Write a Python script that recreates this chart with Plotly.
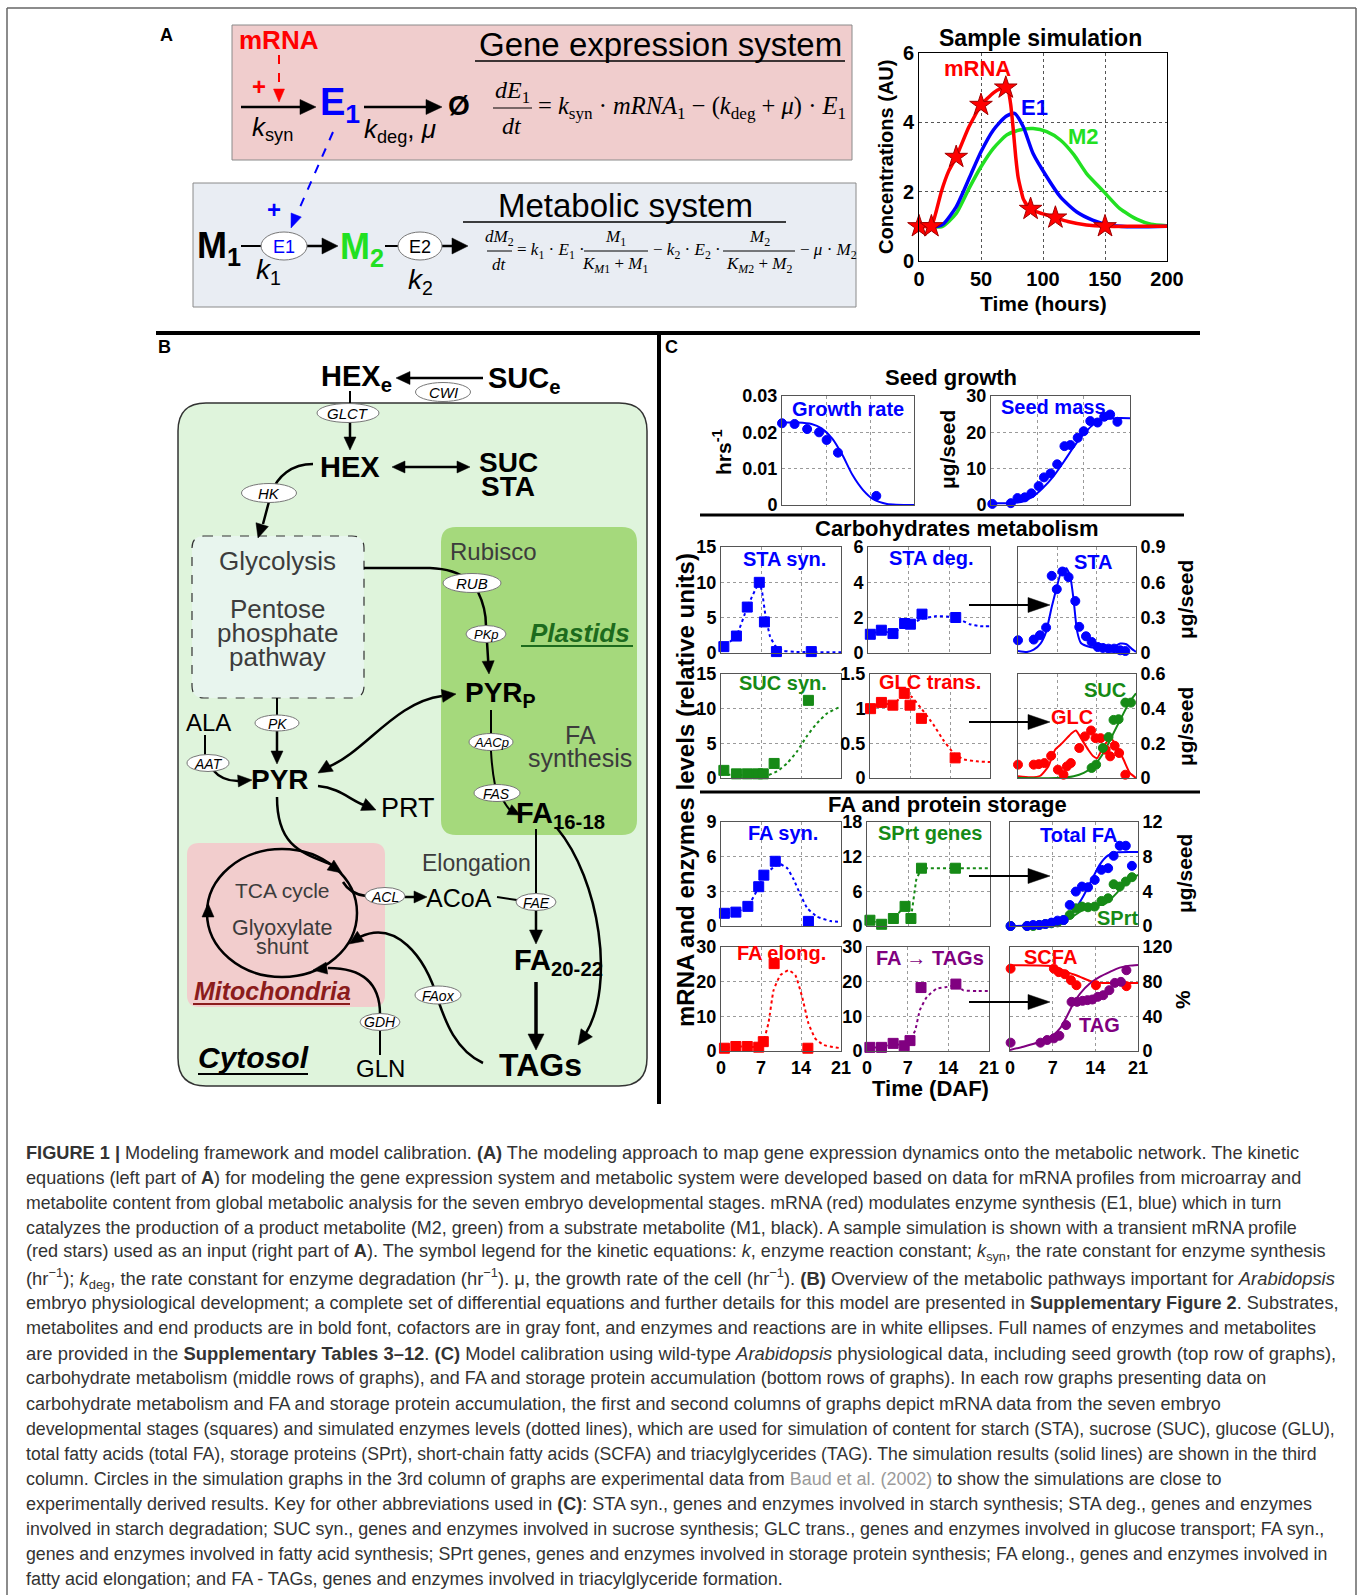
import math
import plotly.graph_objects as go

W, H = 1358, 1595
SANS = "Liberation Sans"
SERIF = "Liberation Serif"

# ---------------- DATA ----------------
# Panel A: sample simulation (hours, AU)
sim_star_t = [0, 10, 30, 50, 70, 90, 110, 150]
sim_star_mrna = [1.0, 1.0, 3.0, 4.5, 5.0, 1.5, 1.25, 1.0]
sim_mrna_t = [0, 10, 14, 18, 24, 30, 40, 50, 60, 66, 70, 72, 74, 76, 78, 80, 84, 88, 90, 95, 100, 110, 120, 135, 150, 175, 200]
sim_mrna_v = [1.0, 1.0, 1.45, 2.0, 2.6, 3.0, 3.85, 4.5, 4.85, 4.97, 5.0, 4.92, 4.5, 3.8, 3.0, 2.4, 1.8, 1.56, 1.5, 1.42, 1.36, 1.25, 1.14, 1.04, 1.0, 1.0, 1.0]
sim_e1_t = [10, 15, 20, 30, 41, 50, 60, 70, 77, 84, 92, 103, 114, 127, 140, 154, 168, 185, 200]
sim_e1_v = [1.0, 1.0, 1.08, 1.56, 2.43, 3.15, 3.78, 4.17, 4.26, 3.88, 3.1, 2.43, 1.85, 1.42, 1.18, 1.03, 0.99, 0.99, 1.0]
sim_m2_t = [10, 19, 30, 41, 50, 60, 71, 81, 92, 103, 114, 125, 135, 149, 162, 176, 187, 200]
sim_m2_v = [0.98, 1.0, 1.37, 2.14, 2.72, 3.25, 3.64, 3.78, 3.82, 3.73, 3.49, 3.06, 2.53, 2.0, 1.51, 1.2, 1.06, 1.02]
sim_x_ticks = [0, 50, 100, 150, 200]
sim_y_ticks = [0, 2, 4, 6]

# Panel C: days after flowering
daf_ticks = [0, 7, 14, 21]

gr_day = [0, 2, 4, 5.9, 7.1, 8.9, 15]
gr_obs = [0.0225, 0.0223, 0.0209, 0.0200, 0.0179, 0.0144, 0.0025]
gr_fit_day = [0, 2.5, 4.7, 6.3, 8, 9.6, 11.2, 12.9, 14.5, 16.7, 21]
gr_fit = [0.0227, 0.0227, 0.0223, 0.0211, 0.0183, 0.0138, 0.0083, 0.0041, 0.0016, 0.0003, 0.0]
gr_ticks = [0, 0.01, 0.02, 0.03]
gr_tick_text = ["0", "0.01", "0.02", "0.03"]

sm_day = [0.2, 3.0, 4.0, 5.1, 6.1, 7.2, 8.0, 9.0, 10.0, 11.1, 12.0, 13.1, 14.0, 15.0, 16.1, 17.1, 18.0, 19.1]
sm_obs = [0.3, 0.5, 1.9, 2.1, 3.2, 5.2, 7.6, 8.7, 11.2, 16.2, 16.5, 18.5, 20.3, 23.1, 22.7, 24.3, 24.9, 22.9]
sm_fit_day = [0, 3.1, 4.7, 6.3, 7.8, 9.4, 11, 12.5, 14.1, 15.7, 17.2, 18.8, 21]
sm_fit = [0.5, 0.5, 0.9, 2.3, 4.6, 7.8, 11.9, 16.0, 19.7, 22.5, 23.6, 23.9, 23.9]

sta_syn_day = [0.5, 2.7, 4.6, 6.7, 7.6, 9.7, 15.8]
sta_syn_obs = [0.9, 2.4, 6.5, 10.0, 4.4, 0.2, 0.2]
sta_syn_fit_day = [0, 0.5, 2.7, 4.6, 6.7, 7.2, 7.8, 8.6, 9.5, 11, 13, 21]
sta_syn_fit = [0.45, 0.9, 2.4, 6.5, 10.0, 8.6, 5.2, 2.3, 1.0, 0.3, 0.15, 0.1]

sta_deg_day = [0.4, 2.3, 4.3, 6.3, 7.3, 9.3, 15.1]
sta_deg_obs = [1.06, 1.29, 1.1, 1.67, 1.63, 2.2, 2.01]
sta_deg_fit_day = [0, 2.3, 4.3, 6.3, 7.3, 9.3, 11.8, 14.1, 15.8, 17.5, 19.3, 21]
sta_deg_fit = [1.0, 1.27, 1.1, 1.63, 1.63, 1.94, 2.09, 2.05, 1.9, 1.63, 1.52, 1.52]

sta_day = [0, 2.8, 3.9, 5.0, 6.0, 6.9, 7.9, 9.0, 10.2, 10.9, 12.1, 13.1, 14.2, 15.1, 16.1, 17.1, 18.2, 19.1]
sta_obs = [0.108, 0.114, 0.151, 0.216, 0.655, 0.541, 0.692, 0.644, 0.441, 0.222, 0.142, 0.094, 0.051, 0.043, 0.037, 0.037, 0.023, 0.017]
sta_fit_day = [0, 1.6, 2.8, 4.0, 5.0, 6.0, 6.9, 7.7, 8.6, 9.3, 9.9, 10.5, 11.2, 12.8, 15.2, 17.0, 18.2, 19.3, 20.2, 21]
sta_fit = [0.017, 0.009, 0.028, 0.08, 0.18, 0.39, 0.56, 0.69, 0.72, 0.65, 0.45, 0.19, 0.085, 0.051, 0.037, 0.051, 0.08, 0.074, 0.037, 0.009]

suc_syn_day = [0.5, 2.7, 4.6, 6.4, 7.4, 9.3, 15.3]
suc_syn_obs = [1.1, 0.6, 0.6, 0.6, 0.6, 2.1, 11.2]
suc_syn_fit_day = [0, 6.3, 8.0, 9.8, 11.6, 13.3, 15.0, 16.8, 18.6, 21]
suc_syn_fit = [0.5, 0.38, 0.33, 0.96, 2.16, 3.83, 6.0, 7.9, 9.34, 10.3]

glc_tr_day = [0.1, 2.0, 4.0, 6.0, 7.0, 9.0, 14.9]
glc_tr_obs = [1.0, 1.09, 1.05, 1.22, 1.05, 0.86, 0.29]
glc_tr_fit_day = [0, 2.0, 4.0, 6.0, 7.3, 9.0, 11.1, 12.8, 14.6, 16.3, 18.7, 21]
glc_tr_fit = [1.0, 1.09, 1.05, 1.22, 1.17, 1.0, 0.77, 0.55, 0.36, 0.27, 0.24, 0.23]

glc_day = [0, 2.8, 3.7, 4.7, 5.9, 7.1, 8.1, 8.7, 9.4, 10.9, 11.9, 13.0, 13.8, 14.7, 15.6, 16.4, 17.2, 18.0, 19.1]
glc_obs = [0.077, 0.077, 0.080, 0.086, 0.128, 0.048, 0.019, 0.067, 0.086, 0.173, 0.240, 0.274, 0.230, 0.230, 0.163, 0.125, 0.186, 0.144, 0.019]
glc_fit_day = [0, 2.2, 4.0, 5.4, 6.6, 7.5, 8.4, 9.6, 10.3, 11.4, 12.5, 13.4, 14.1, 14.9, 16.1, 16.7, 17.6, 18.8, 19.9, 21]
glc_fit = [0.01, 0.004, 0.013, 0.067, 0.163, 0.19, 0.22, 0.26, 0.274, 0.22, 0.163, 0.125, 0.115, 0.163, 0.22, 0.224, 0.18, 0.105, 0.029, 0.0]
suc_day = [13.1, 13.9, 15.1, 16.1, 17.0, 17.9, 19.1, 20.1]
suc_obs = [0.058, 0.077, 0.173, 0.236, 0.335, 0.339, 0.435, 0.435]
suc_fit_day = [0, 6.9, 9.9, 11.7, 13.4, 15.2, 17.0, 18.8, 19.9, 21]
suc_fit = [0.0, 0.0, 0.01, 0.029, 0.067, 0.144, 0.259, 0.374, 0.441, 0.489]

fa_syn_day = [0.6, 2.6, 4.7, 6.6, 7.5, 9.5, 15.3]
fa_syn_obs = [1.1, 1.2, 1.7, 3.4, 4.4, 5.6, 0.4]
fa_syn_fit_day = [0, 0.6, 2.6, 4.7, 6.6, 7.5, 9.5, 10.4, 11.6, 12.7, 13.9, 15.1, 16.8, 19.1, 21]
fa_syn_fit = [1.04, 1.1, 1.2, 1.7, 3.36, 4.37, 5.2, 5.35, 5.0, 4.05, 2.7, 1.53, 0.81, 0.43, 0.35]

sprt_g_day = [0.5, 2.5, 4.5, 6.5, 7.5, 9.3, 15.1]
sprt_g_obs = [1.0, 0.3, 1.3, 3.4, 1.3, 10.0, 10.0]
sprt_g_fit_day = [0, 0.5, 2.5, 4.5, 6.5, 7.5, 8.4, 9.3, 15.1, 21]
sprt_g_fit = [0.9, 1.0, 0.3, 1.3, 3.4, 1.3, 8.0, 10.0, 10.0, 10.0]

totfa_day = [0.1, 2.8, 3.8, 4.8, 5.8, 6.8, 7.8, 8.8, 9.8, 10.8, 11.8, 12.8, 13.9, 15.0, 16.1, 17.0, 18.0, 19.0, 20.0]
totfa_obs = [0, 0, 0.12, 0.12, 0.23, 0.39, 0.62, 0.69, 2.43, 3.97, 4.55, 4.47, 5.32, 6.48, 6.67, 8.1, 9.26, 9.26, 6.94]
totfa_fit_day = [0, 4.9, 7.6, 9.3, 10.6, 12.0, 13.4, 14.7, 16.1, 17.5, 21]
totfa_fit = [0, 0.08, 0.39, 0.89, 1.85, 3.4, 5.3, 7.06, 8.14, 8.49, 8.53]
sprt_obs = [0, 0, 0, 0.12, 0.23, 0.31, 0.42, 0.69, 1.27, 2.04, 2.24, 2.16, 2.24, 2.89, 3.2, 4.82, 4.55, 5.13, 5.63]
sprt_fit_day = [0, 4.9, 7.6, 9.8, 12.0, 13.9, 15.3, 16.4, 18.0, 19.6, 21]
sprt_fit = [0, 0.05, 0.31, 0.89, 1.85, 2.43, 2.43, 3.0, 4.17, 5.25, 5.9]

fa_el_day = [0.6, 2.6, 4.6, 6.6, 7.4, 9.3, 15.2]
fa_el_obs = [0.8, 1.3, 1.3, 1.1, 2.7, 25.2, 0.8]
fa_el_fit_day = [0, 0.6, 2.6, 4.6, 6.6, 7.4, 8.3, 9.2, 10.4, 11.8, 13.0, 14.2, 15.3, 16.5, 18.0, 21]
fa_el_fit = [0.8, 0.8, 1.3, 1.3, 1.1, 2.7, 8.0, 17.5, 21.9, 23.3, 21.9, 15.6, 8.0, 3.6, 1.7, 0.8]

tag_g_day = [0.5, 2.5, 4.5, 6.4, 7.4, 9.3, 15.3]
tag_g_obs = [1.05, 1.05, 2.2, 1.5, 3.0, 18.3, 19.3]
tag_g_fit_day = [0, 0.5, 2.5, 4.5, 6.4, 7.4, 8.3, 9.1, 10.3, 12.0, 13.8, 15.3, 16.6, 18.9, 21]
tag_g_fit = [1.0, 1.05, 1.05, 2.2, 1.5, 3.0, 6.0, 11.8, 15.6, 18.0, 18.5, 18.9, 17.5, 17.3, 17.3]

scfa_day = [0.1, 7.2, 8.0, 9.0, 10.0, 10.9, 14.1, 19.1]
scfa_obs = [95, 95, 91, 88.6, 81.7, 75.9, 75.9, 74.8]
scfa_fit_day = [0, 7.1, 9.3, 11.5, 13.1, 14.7, 16.4, 21]
scfa_fit = [99, 97.8, 91.3, 85.5, 80.9, 78.6, 78.6, 78.6]
tag_day = [0.1, 5.0, 6.1, 7.2, 8.1, 9.2, 10.1, 11.0, 11.9, 12.7, 13.5, 14.4, 15.3, 16.3, 17.2, 18.2, 19.1]
tag_obs = [9.6, 9.6, 12.7, 14.6, 17.6, 29.9, 56.7, 56.7, 57.9, 58.7, 59.4, 62.5, 64.4, 70.2, 78.6, 79.8, 93.2]
tag_fit_day = [0, 2.2, 4.9, 7.1, 8.2, 9.3, 10.4, 11.5, 13.1, 14.7, 16.4, 18.0, 19.6, 21]
tag_fit = [1.2, 5.0, 10.7, 18.4, 26.0, 39.5, 54.8, 66.3, 77.8, 85.5, 91.3, 96.2, 98.5, 99.3]

caption_lines = [
    "<b>FIGURE 1 |</b> Modeling framework and model calibration. <b>(A)</b> The modeling approach to map gene expression dynamics onto the metabolic network. The kinetic",
    "equations (left part of <b>A</b>) for modeling the gene expression system and metabolic system were developed based on data for mRNA profiles from microarray and",
    "metabolite content from global metabolic analysis for the seven embryo developmental stages. mRNA (red) modulates enzyme synthesis (E1, blue) which in turn",
    "catalyzes the production of a product metabolite (M2, green) from a substrate metabolite (M1, black). A sample simulation is shown with a transient mRNA profile",
    "(red stars) used as an input (right part of <b>A</b>). The symbol legend for the kinetic equations: <i>k</i>, enzyme reaction constant; <i>k</i><sub>syn</sub>, the rate constant for enzyme synthesis",
    "(hr<sup>−1</sup>); <i>k</i><sub>deg</sub>, the rate constant for enzyme degradation (hr<sup>−1</sup>). μ, the growth rate of the cell (hr<sup>−1</sup>). <b>(B)</b> Overview of the metabolic pathways important for <i>Arabidopsis</i>",
    "embryo physiological development; a complete set of differential equations and further details for this model are presented in <b>Supplementary Figure 2</b>. Substrates,",
    "metabolites and end products are in bold font, cofactors are in gray font, and enzymes and reactions are in white ellipses. Full names of enzymes and metabolites",
    "are provided in the <b>Supplementary Tables 3–12</b>. <b>(C)</b> Model calibration using wild-type <i>Arabidopsis</i> physiological data, including seed growth (top row of graphs),",
    "carbohydrate metabolism (middle rows of graphs), and FA and storage protein accumulation (bottom rows of graphs). In each row graphs presenting data on",
    "carbohydrate metabolism and FA and storage protein accumulation, the first and second columns of graphs depict mRNA data from the seven embryo",
    "developmental stages (squares) and simulated enzymes levels (dotted lines), which are used for simulation of content for starch (STA), sucrose (SUC), glucose (GLU),",
    "total fatty acids (total FA), storage proteins (SPrt), short-chain fatty acids (SCFA) and triacylglycerides (TAG). The simulation results (solid lines) are shown in the third",
    "column. Circles in the simulation graphs in the 3rd column of graphs are experimental data from <span style='color:#9a9a9a'>Baud et al. (2002)</span> to show the simulations are close to",
    "experimentally derived results. Key for other abbreviations used in <b>(C)</b>: STA syn., genes and enzymes involved in starch synthesis; STA deg., genes and enzymes",
    "involved in starch degradation; SUC syn., genes and enzymes involved in sucrose synthesis; GLC trans., genes and enzymes involved in glucose transport; FA syn.,",
    "genes and enzymes involved in fatty acid synthesis; SPrt genes, genes and enzymes involved in storage protein synthesis; FA elong., genes and enzymes involved in",
    "fatty acid elongation; and FA - TAGs, genes and enzymes involved in triacylglyceride formation.",
]
caption_font_sizes = [18.2, 18.1, 17.7, 17.9, 18.1, 18.4, 18.15, 18.05, 18.4, 17.95, 18.05,
                      17.75, 17.65, 17.95, 18.0, 17.85, 17.75, 18.0]

# ---------------- COLORS ----------------
BLUE = "#0000ff"
RED = "#ff0000"
GREEN = "#168a16"
LGREEN = "#22e022"
PURPLE = "#800080"
GRAYTXT = "#3c3c3c"

# ---------------- HELPERS ----------------
shapes = []
top_shapes = []
anns = []


def X(v):
    return v / W


def Y(v):
    return 1 - v / H


def text(x, y, s, size, color="black", bold=False, italic=False, family=SANS,
         xa="center", ya="middle", angle=0):
    anns.append(dict(x=X(x), y=Y(y), xref="paper", yref="paper", text=s, showarrow=False,
                     font=dict(family=family, size=size, color=color,
                               weight="bold" if bold else "normal",
                               style="italic" if italic else "normal"),
                     xanchor=xa, yanchor=ya, textangle=angle))


def seg(x0, y0, x1, y1, color="black", w=2.0, dash=None, target=None):
    (target if target is not None else shapes).append(
        dict(type="line", xref="paper", yref="paper", x0=X(x0), y0=Y(y0), x1=X(x1), y1=Y(y1),
             line=dict(color=color, width=w, dash=dash)))


def path(cmds, color="black", w=2.0, fill=None, dash=None, target=None):
    parts = []
    for c in cmds:
        op, nums = c[0], c[1:]
        pts = " ".join(f"{X(nums[i]):.5f},{Y(nums[i + 1]):.5f}" for i in range(0, len(nums), 2))
        parts.append(op + (" " + pts if pts else ""))
    (target if target is not None else shapes).append(
        dict(type="path", xref="paper", yref="paper", path=" ".join(parts),
             line=dict(color=color, width=w, dash=dash),
             fillcolor=fill if fill else "rgba(0,0,0,0)"))


def head(tx, ty, fx, fy, L=13, Wd=12, color="black", target=None):
    dx, dy = tx - fx, ty - fy
    n = math.hypot(dx, dy)
    ux, uy = dx / n, dy / n
    bx, by = tx - ux * L, ty - uy * L
    px, py = -uy, ux
    path([("M", tx, ty), ("L", bx + px * Wd / 2, by + py * Wd / 2),
          ("L", bx - px * Wd / 2, by - py * Wd / 2), ("Z",)],
         color=color, w=0.5, fill=color, target=target)


def arrow(x0, y0, x1, y1, color="black", w=2.5, L=13, Wd=12, dash=None, both=False, target=None):
    dx, dy = x1 - x0, y1 - y0
    n = math.hypot(dx, dy)
    ux, uy = dx / n, dy / n
    sx, sy = (x0 + ux * L * 0.7, y0 + uy * L * 0.7) if both else (x0, y0)
    seg(sx, sy, x1 - ux * L * 0.7, y1 - uy * L * 0.7, color, w, dash, target)
    head(x1, y1, x0, y0, L, Wd, color, target)
    if both:
        head(x0, y0, x1, y1, L, Wd, color, target)


ellipses = []


def ell(cx, cy, w, h, label, size=14, color="black", italic=True, lc="#777"):
    ellipses.append(dict(type="circle", xref="paper", yref="paper",
                         x0=X(cx - w / 2), x1=X(cx + w / 2), y0=Y(cy + h / 2), y1=Y(cy - h / 2),
                         fillcolor="white", line=dict(color=lc, width=1)))
    text(cx, cy + 0.5, label, size, color, italic=italic)


def rrect(x0, y0, x1, y1, r, fill, lc=None, lw=1.0, dash=None):
    path([("M", x0 + r, y0), ("L", x1 - r, y0), ("Q", x1, y0, x1, y0 + r), ("L", x1, y1 - r),
          ("Q", x1, y1, x1 - r, y1), ("L", x0 + r, y1), ("Q", x0, y1, x0, y1 - r),
          ("L", x0, y0 + r), ("Q", x0, y0, x0 + r, y0), ("Z",)],
         color=lc if lc else fill, w=lw if lc else 0, fill=fill, dash=dash)


def rect(x0, y0, x1, y1, fill, lc="#888", lw=1.0):
    shapes.append(dict(type="rect", xref="paper", yref="paper", x0=X(x0), x1=X(x1), y0=Y(y1), y1=Y(y0),
                       fillcolor=fill, line=dict(color=lc, width=lw)))


# ---------------- FIGURE / AXES ----------------
fig = go.Figure()
layout = {}


def ax_names(i):
    return ("xaxis" if i == 1 else f"xaxis{i}", "yaxis" if i == 1 else f"yaxis{i}",
            "x" if i == 1 else f"x{i}", "y" if i == 1 else f"y{i}")


def mkaxes(i, box, xr, yr, ytv, ytt=None, side="left", xlabels=False, xtv=daf_ticks,
           tsize=18, lc="#555", gc="#9a9a9a"):
    xa, ya, xn, yn = ax_names(i)
    x0, y0, x1, y1 = box
    tf = dict(family=SANS, size=tsize, color="black", weight="bold")
    common = dict(showgrid=True, gridcolor=gc, griddash="dot", gridwidth=1, showline=True, mirror=True,
                  linecolor=lc, linewidth=1, zeroline=False, ticks="", tickfont=tf, automargin=False,
                  fixedrange=True)
    layout[xa] = dict(domain=[X(x0), X(x1)], range=xr, anchor=yn, tickvals=xtv,
                      showticklabels=xlabels, **common)
    layout[ya] = dict(domain=[Y(y1), Y(y0)], range=yr, anchor=xn, side=side, tickvals=ytv,
                      ticktext=ytt, **common)
    return xn, yn


def line_tr(ax, xs, ys, color, w=2.0, dash=None, smooth=0.6):
    fig.add_trace(go.Scatter(x=xs, y=ys, mode="lines", xaxis=ax[0], yaxis=ax[1], hoverinfo="skip",
                             line=dict(color=color, width=w, dash=dash, shape="spline", smoothing=smooth),
                             showlegend=False))


def mark_tr(ax, xs, ys, color, symbol="circle", size=9, lcol=None):
    fig.add_trace(go.Scatter(x=xs, y=ys, mode="markers", xaxis=ax[0], yaxis=ax[1], hoverinfo="skip",
                             cliponaxis=False,
                             marker=dict(color=color, symbol=symbol, size=size,
                                         line=dict(color=lcol if lcol else color, width=1)),
                             showlegend=False))


# ---- Panel A sample simulation ----
a1 = mkaxes(1, (919, 53, 1167, 261), [0, 200], [0, 6], sim_y_ticks, side="left", xlabels=True,
            xtv=sim_x_ticks, tsize=20, lc="black", gc="#555")
line_tr(a1, sim_m2_t, sim_m2_v, LGREEN, w=3.5)
line_tr(a1, sim_e1_t, sim_e1_v, BLUE, w=3.5)
line_tr(a1, sim_mrna_t, sim_mrna_v, RED, w=3.5, smooth=0.4)
mark_tr(a1, sim_star_t, sim_star_mrna, RED, symbol="star", size=17, lcol="#a00000")
for lbl, lx, ly, c in [("mRNA", 47, 5.55, RED), ("E1", 93, 4.42, BLUE), ("M2", 133, 3.6, LGREEN)]:
    anns.append(dict(x=lx, y=ly, xref="x", yref="y", text=lbl, showarrow=False,
                     font=dict(family=SANS, size=22, color=c, weight="bold")))

# ---- Panel C axes ----
a2 = mkaxes(2, (782, 396, 914, 505), [0, 21], [0, 0.03], gr_ticks, gr_tick_text)
a3 = mkaxes(3, (991, 396, 1130, 505), [0, 21], [0, 30], [0, 10, 20, 30])
a4 = mkaxes(4, (721, 547, 841, 653), [0, 21], [0, 15], [0, 5, 10, 15])
a5 = mkaxes(5, (868, 547, 990, 653), [0, 21], [0, 6], [0, 2, 4, 6])
a6 = mkaxes(6, (1018, 547, 1136, 653), [0, 21], [0, 0.9], [0, 0.3, 0.6, 0.9], ["0", "0.3", "0.6", "0.9"], side="right")
a7 = mkaxes(7, (721, 674, 841, 778), [0, 21], [0, 15], [0, 5, 10, 15])
a8 = mkaxes(8, (870, 674, 990, 778), [0, 21], [0, 1.5], [0, 0.5, 1, 1.5], ["0", "0.5", "1", "1.5"])
a9 = mkaxes(9, (1018, 674, 1136, 778), [0, 21], [0, 0.6], [0, 0.2, 0.4, 0.6], ["0", "0.2", "0.4", "0.6"], side="right")
a10 = mkaxes(10, (721, 822, 841, 926), [0, 21], [0, 9], [0, 3, 6, 9])
a11 = mkaxes(11, (867, 822, 990, 926), [0, 21], [0, 18], [0, 6, 12, 18])
a12 = mkaxes(12, (1010, 822, 1138, 926), [0, 21], [0, 12], [0, 4, 8, 12], side="right")
a13 = mkaxes(13, (721, 947, 841, 1051), [0, 21], [0, 30], [0, 10, 20, 30], xlabels=True)
a14 = mkaxes(14, (867, 947, 989, 1051), [0, 21], [0, 30], [0, 10, 20, 30], xlabels=True)
a15 = mkaxes(15, (1010, 947, 1138, 1051), [0, 21], [0, 120], [0, 40, 80, 120], side="right", xlabels=True)

# Seed growth
line_tr(a2, gr_fit_day, gr_fit, BLUE)
mark_tr(a2, gr_day, gr_obs, BLUE)
line_tr(a3, sm_fit_day, sm_fit, BLUE)
mark_tr(a3, sm_day, sm_obs, BLUE)
# Carbohydrates
line_tr(a4, sta_syn_fit_day, sta_syn_fit, BLUE, dash="dot", smooth=0.3)
mark_tr(a4, sta_syn_day, sta_syn_obs, BLUE, "square", 10)
line_tr(a5, sta_deg_fit_day, sta_deg_fit, BLUE, dash="dot", smooth=0.3)
mark_tr(a5, sta_deg_day, sta_deg_obs, BLUE, "square", 10)
line_tr(a6, sta_fit_day, sta_fit, BLUE, smooth=0.5)
mark_tr(a6, sta_day, sta_obs, BLUE)
line_tr(a7, suc_syn_fit_day, suc_syn_fit, GREEN, dash="dot")
mark_tr(a7, suc_syn_day, suc_syn_obs, GREEN, "square", 10)
line_tr(a8, glc_tr_fit_day, glc_tr_fit, RED, dash="dot", smooth=0.3)
mark_tr(a8, glc_tr_day, glc_tr_obs, RED, "square", 10)
line_tr(a9, glc_fit_day, glc_fit, RED, smooth=0.5)
line_tr(a9, suc_fit_day, suc_fit, GREEN)
mark_tr(a9, glc_day, glc_obs, RED)
mark_tr(a9, suc_day, suc_obs, GREEN)
# FA and protein
line_tr(a10, fa_syn_fit_day, fa_syn_fit, BLUE, dash="dot", smooth=0.3)
mark_tr(a10, fa_syn_day, fa_syn_obs, BLUE, "square", 10)
line_tr(a11, sprt_g_fit_day, sprt_g_fit, GREEN, dash="dot", smooth=0)
mark_tr(a11, sprt_g_day, sprt_g_obs, GREEN, "square", 10)
line_tr(a12, sprt_fit_day, sprt_fit, GREEN)
line_tr(a12, totfa_fit_day, totfa_fit, BLUE)
mark_tr(a12, totfa_day, sprt_obs, GREEN)
mark_tr(a12, totfa_day, totfa_obs, BLUE)
line_tr(a13, fa_el_fit_day, fa_el_fit, RED, dash="dot", smooth=0.4)
mark_tr(a13, fa_el_day, fa_el_obs, RED, "square", 10)
line_tr(a14, tag_g_fit_day, tag_g_fit, PURPLE, dash="dot", smooth=0.4)
mark_tr(a14, tag_g_day, tag_g_obs, PURPLE, "square", 10)
line_tr(a15, scfa_fit_day, scfa_fit, RED)
line_tr(a15, tag_fit_day, tag_fit, PURPLE)
mark_tr(a15, scfa_day, scfa_obs, RED)
mark_tr(a15, tag_day, tag_obs, PURPLE)

# ---------------- OUTER FRAME + SEPARATORS ----------------
seg(7, 8, 1356, 8, "#666", 1.5)
seg(7, 8, 7, 1600, "#666", 1.5)
seg(1356, 8, 1356, 1600, "#666", 1.5)
seg(156, 333, 1200, 333, "black", 4)
seg(659, 333, 659, 1104, "black", 4)

# ---------------- PANEL A (diagram) ----------------
text(166, 35, "A", 18, bold=True)
rect(232, 25, 852, 160, "#f0cdcd", "#8a8a8a", 1)
rect(193, 183, 856, 307, "#e9edf3", "#8a8a8a", 1)

text(660, 44, "Gene expression system", 33)
seg(475, 61, 845, 61, "black", 1.5)
text(625, 206, "Metabolic system", 33)
seg(463, 222, 786, 222, "black", 1.5)

text(279, 40, "mRNA", 26, RED, bold=True)
seg(279, 55, 279, 90, RED, 2, "dash")
head(279, 102, 279, 88, 13, 11, RED)
text(259, 86, "+", 24, RED, bold=True)
arrow(241, 107, 316, 107, "black", 2.5, 16, 15)
text(272, 128, "<i>k</i><sub>syn</sub>", 26)
text(340, 105, "E<sub>1</sub>", 38, BLUE, bold=True)
arrow(364, 107, 442, 107, "black", 2.5, 16, 15)
text(459, 106, "Ø", 28, bold=True)
text(400, 131, "<i>k</i><sub>deg</sub>, <i>μ</i>", 26)

# equation 1
text(512, 92, "<i>dE</i><sub>1</sub>", 24, family=SERIF)
seg(493, 108, 532, 108, "black", 1.2)
text(512, 126, "<i>dt</i>", 24, family=SERIF)
text(536, 108, "= <i>k</i><sub>syn</sub> · <i>mRNA</i><sub>1</sub> − (<i>k</i><sub>deg</sub> + <i>μ</i>) · <i>E</i><sub>1</sub>",
     24.5, family=SERIF, xa="left")

# metabolic system
seg(333, 132, 297, 214, BLUE, 2, "dash")
head(291, 228, 297, 213, 14, 11, BLUE)
text(274, 209, "+", 24, BLUE, bold=True)
text(219, 248, "M<sub>1</sub>", 36, bold=True)
seg(241, 246, 262, 246, "black", 2)
ell(284, 246, 46, 28, "E1", 18, BLUE, italic=False)
arrow(307, 246, 338, 246, "black", 2.5, 16, 16)
text(362, 249, "M<sub>2</sub>", 36, LGREEN, bold=True)
seg(385, 246, 399, 246, "black", 2)
ell(420, 246, 44, 28, "E2", 18, "black", italic=False)
arrow(442, 246, 468, 246, "black", 2.5, 16, 16)
text(268, 272, "<i>k</i><sub>1</sub>", 28)
text(420, 281, "<i>k</i><sub>2</sub>", 28)

# equation 2
text(499, 238, "<i>dM</i><sub>2</sub>", 17, family=SERIF)
seg(487, 251, 512, 251, "black", 1)
text(499, 264, "<i>dt</i>", 17, family=SERIF)
text(515, 251, "= <i>k</i><sub>1</sub> · <i>E</i><sub>1</sub> ·", 17, family=SERIF, xa="left")
text(615, 238, "<i>M</i><sub>1</sub>", 17, family=SERIF)
seg(584, 251, 648, 251, "black", 1)
text(615, 265, "<i>K</i><sub><i>M</i>1</sub> + <i>M</i><sub>1</sub>", 17, family=SERIF)
text(651, 251, "− <i>k</i><sub>2</sub> · <i>E</i><sub>2</sub> ·", 17, family=SERIF, xa="left")
text(759, 238, "<i>M</i><sub>2</sub>", 17, family=SERIF)
seg(723, 251, 795, 251, "black", 1)
text(759, 265, "<i>K</i><sub><i>M</i>2</sub> + <i>M</i><sub>2</sub>", 17, family=SERIF)
text(798, 251, "− <i>μ</i> · <i>M</i><sub>2</sub>", 17, family=SERIF, xa="left")

# Sample simulation titles
text(1040, 38, "Sample simulation", 23, bold=True)
text(886, 157, "Concentrations (AU)", 20, bold=True, angle=-90)
text(1043, 303, "Time (hours)", 21, bold=True)

# ---------------- PANEL B ----------------
text(164, 347, "B", 18, bold=True)
rrect(178, 403, 647, 1086, 28, "#dff4dc", "#333", 1.5)
rrect(441, 527, 637, 835, 15, "#a5d97c")
rrect(187, 843, 385, 1007, 12, "#f2cdcd")
rrect(192, 536, 364, 698, 12, "#e8f5ee", "#333", 1.2, "dash")

text(356, 378, "HEX<sub>e</sub>", 29, bold=True)
text(524, 380, "SUC<sub>e</sub>", 29, bold=True)
arrow(483, 378, 396, 378, "black", 2.5, 14, 13)
seg(350, 391, 350, 405)
arrow(350, 421, 350, 450, "black", 2.5, 13, 12)
text(350, 467, "HEX", 29, bold=True)
arrow(392, 467, 470, 467, "black", 2.5, 13, 12, both=True)
text(508, 462, "SUC", 28, bold=True)
text(508, 486, "STA", 28, bold=True)
path([("M", 313, 464), ("C", 292, 464, 277, 476, 271, 494), ("L", 263, 524)], w=2.5)
head(258, 538, 263, 522, 14, 13)

text(277, 561, "Glycolysis", 26, GRAYTXT)
text(277, 609, "Pentose", 26, GRAYTXT)
text(277, 633, "phosphate", 26, GRAYTXT)
text(277, 657, "pathway", 26, GRAYTXT)
text(493, 551, "Rubisco", 24, GRAYTXT)
path([("M", 364, 568), ("L", 430, 568), ("Q", 455, 569, 468, 580)], w=2.5)
path([("M", 478, 592), ("Q", 486, 608, 486, 626)], w=2.5)
arrow(487, 642, 489, 674, "black", 2.5, 13, 12)
text(500, 695, "PYR<sub>P</sub>", 28, bold=True)
text(580, 633, "Plastids", 26, "#1d6b1d", bold=True, italic=True)
seg(521, 646, 633, 646, "#1d6b1d", 2)
text(580, 735, "FA", 25, GRAYTXT)
text(580, 758, "synthesis", 25, GRAYTXT)
seg(491, 710, 491, 734, "black", 2)
path([("M", 491, 751), ("Q", 492, 770, 495, 785)], w=2)
path([("M", 503, 800), ("Q", 507, 807, 510, 810)], w=2)
head(520, 815, 508, 809, 12, 11)
text(560, 815, "FA<sub>16-18</sub>", 29, bold=True)

text(208, 722, "ALA", 24)
seg(205, 735, 205, 756, "black", 2)
path([("M", 213, 770), ("Q", 222, 781, 238, 781)], w=2.5)
head(252, 780, 237, 781, 14, 12)
seg(277, 698, 277, 716, "black", 2)
arrow(277, 731, 277, 764, "black", 2.5, 13, 12)
text(280, 779, "PYR", 28, bold=True)
path([("M", 328, 767), ("C", 365, 752, 395, 702, 442, 696)], w=2.5)
head(318, 773, 331, 765, 14, 13)
head(456, 694, 441, 696, 14, 13)
path([("M", 318, 786), ("C", 340, 788, 350, 800, 364, 805)], w=2.5)
head(376, 810, 362, 804, 14, 13)
text(408, 808, "PRT", 27)

# mitochondria
shapes.append(dict(type="circle", xref="paper", yref="paper", x0=X(207), x1=X(357), y0=Y(977), y1=Y(849),
                   line=dict(color="black", width=2.5), fillcolor="rgba(0,0,0,0)"))
head(208, 903, 208, 922, 14, 12)
path([("M", 277, 797), ("C", 277, 845, 300, 852, 330, 864)], w=2.5)
head(342, 873, 329, 864, 14, 12)
path([("M", 343, 882), ("Q", 350, 894, 366, 896)], w=2.5)
text(282, 890, "TCA cycle", 21, GRAYTXT)
text(282, 928, "Glyoxylate", 21.5, GRAYTXT)
text(282, 947, "shunt", 21.5, GRAYTXT)
text(272, 991, "Mitochondria", 25, "#8b1c1c", bold=True, italic=True)
seg(193, 1004, 350, 1004, "#8b1c1c", 2)

text(477, 863, "Elongation", 23, GRAYTXT)
arrow(405, 897, 427, 897, "black", 2.5, 13, 12)
text(459, 898, "ACoA", 25)
seg(497, 897, 517, 900, "black", 2)
seg(536, 829, 536, 894, "black", 2)
arrow(536, 910, 536, 944, "black", 2.5, 14, 13)
text(558, 962, "FA<sub>20-22</sub>", 29, bold=True)
arrow(536, 982, 536, 1050, "black", 3.5, 16, 16)
text(540, 1065, "TAGs", 32, bold=True)
path([("M", 557, 828), ("C", 600, 880, 615, 985, 586, 1033)], w=2.5)
head(578, 1045, 588, 1031, 15, 14)
path([("M", 483, 1063), ("C", 455, 1050, 445, 1020, 438, 1000), ("C", 425, 955, 395, 920, 360, 937)], w=2.5)
head(349, 944, 361, 936, 14, 12)
seg(380, 1055, 380, 1030, "black", 2)
path([("M", 380, 1014), ("C", 380, 985, 365, 968, 328, 968)], w=2.5)
head(313, 970, 328, 968, 14, 12)
text(380, 1068, "GLN", 24)
text(253, 1057, "Cytosol", 30, bold=True, italic=True)
seg(198, 1074, 308, 1074, "black", 2)

# enzyme ellipses
ell(443, 392, 55, 19, "CWI", 15)
ell(348, 413, 62, 19, "GLCT", 15)
ell(269, 493, 55, 19, "HK", 15)
ell(472, 583, 58, 19, "RUB", 15)
ell(486, 634, 40, 17, "PKp", 13)
ell(491, 742, 44, 17, "AACp", 13)
ell(497, 793, 46, 17, "FAS", 14)
ell(277, 723, 44, 16, "PK", 14)
ell(208, 763, 42, 17, "AAT", 14)
ell(385, 896, 40, 17, "ACL", 14)
ell(536, 902, 40, 17, "FAE", 14)
ell(438, 995, 46, 18, "FAox", 14)
ell(380, 1022, 40, 17, "GDH", 14)

# ---------------- PANEL C labels ----------------
text(671, 347, "C", 18, bold=True)
text(951, 378, "Seed growth", 22, bold=True)
text(848, 409, "Growth rate", 20, BLUE, bold=True)
text(1053, 407, "Seed mass", 20, BLUE, bold=True)
text(722, 452, "hrs<sup>-1</sup>", 21, bold=True, angle=-90)
text(948, 450, "μg/seed", 21, bold=True, angle=-90)
seg(700, 515, 1184, 515, "black", 3)
text(957, 528, "Carbohydrates metabolism", 22, bold=True)
seg(700, 792, 1200, 792, "black", 3)
text(947, 804, "FA and protein storage", 22, bold=True)

for lbl, lx, ly, c in [("STA syn.", 785, 559, BLUE), ("STA deg.", 931, 558, BLUE), ("STA", 1093, 562, BLUE),
                       ("SUC syn.", 783, 683, GREEN), ("GLC trans.", 930, 682, RED),
                       ("SUC", 1105, 690, GREEN), ("GLC", 1072, 717, RED),
                       ("FA syn.", 783, 833, BLUE), ("SPrt genes", 930, 833, GREEN),
                       ("Total FA", 1078, 835, BLUE), ("SPrt", 1117, 918, GREEN),
                       ("FA elong.", 782, 953, RED), ("FA → TAGs", 930, 958, PURPLE),
                       ("SCFA", 1050, 957, RED), ("TAG", 1099, 1025, PURPLE)]:
    text(lx, ly, lbl, 20, c, bold=True)

for yy in (605, 722, 876, 1002):
    arrow(969, yy, 1050, yy, "black", 2, 22, 15, target=top_shapes)

text(1185, 600, "μg/seed", 21, bold=True, angle=-90)
text(1185, 727, "μg/seed", 21, bold=True, angle=-90)
text(1184, 874, "μg/seed", 21, bold=True, angle=-90)
text(1182, 1000, "%", 21, bold=True, angle=-90)
text(686, 790, "mRNA and enzymes levels (relative units)", 24, bold=True, angle=-90)
text(930, 1088, "Time (DAF)", 22, bold=True)

# ---------------- CAPTION ----------------
for i, ln in enumerate(caption_lines):
    anns.append(dict(x=X(24), y=Y(1152.5 + i * 25.1), xref="paper", yref="paper", text=ln,
                     showarrow=False, xanchor="left", yanchor="middle",
                     font=dict(family=SANS, size=caption_font_sizes[i], color="#333333")))

layout.update(dict(width=W, height=H, margin=dict(l=0, r=0, t=0, b=0), autosize=False,
                   paper_bgcolor="white", plot_bgcolor="white", showlegend=False,
                   shapes=shapes + ellipses + top_shapes, annotations=anns))
fig.update_layout(**layout)
fig.write_html("out.html", config={"displayModeBar": False, "staticPlot": True},
               post_script="document.body.style.margin='0';document.body.style.overflow='hidden';")
